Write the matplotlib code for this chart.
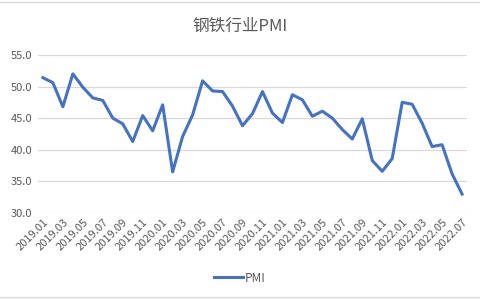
import matplotlib
matplotlib.use("Agg")
import matplotlib.pyplot as plt
from matplotlib.lines import Line2D

plt.rcParams['font.family'] = ['Noto Sans CJK SC', 'DejaVu Sans']

months = [f"{y}.{m:02d}" for y in (2019, 2020, 2021, 2022) for m in range(1, 13)][:43]
pmi = [51.4, 50.6, 46.8, 52.0, 49.9, 48.2, 47.8, 45.0, 44.1, 41.3,
       45.4, 43.0, 47.1, 36.5, 42.1, 45.5, 50.9, 49.3, 49.2, 46.9,
       43.8, 45.7, 49.2, 45.8, 44.3, 48.7, 47.9, 45.3, 46.1, 45.0,
       43.2, 41.7, 44.9, 38.3, 36.6, 38.6, 47.5, 47.2, 44.2, 40.5,
       40.8, 36.2, 33.0]
yticks = [30, 35, 40, 45, 50, 55]

gray = '#595959'
fig = plt.figure(figsize=(4.8, 3.0), dpi=100)
ax = fig.add_axes([0.079, 0.29, 0.894, 0.527])

x = list(range(len(pmi)))
ax.plot(x, pmi, color='#4472C4', linewidth=2.2, label='PMI', solid_joinstyle='round')

ax.set_xlim(-0.5, len(pmi) - 0.5)
ax.set_ylim(30, 55)
ax.set_yticks(yticks)
ax.set_yticklabels([f"{v:.1f}" for v in yticks])
ax.set_xticks(x[::2])
ax.set_xticklabels(months[::2], rotation=45, ha='right', rotation_mode='anchor')
ax.tick_params(axis='both', length=0, labelsize=8, colors=gray, pad=3)
ax.tick_params(axis='y', pad=4)
ax.grid(axis='y', color='#D9D9D9', linewidth=0.9)
ax.set_axisbelow(True)
for s in ax.spines.values():
    s.set_visible(False)

fig.text(0.5, 0.913, '钢铁行业PMI', ha='center', va='center', fontsize=12, color=gray)
fig.legend(loc='center', bbox_to_anchor=(0.5, 0.073), frameon=False, fontsize=8.5,
           handlelength=2.4, labelcolor=gray, handletextpad=0.2)

fig.add_artist(Line2D([0, 1], [0.993, 0.993], color='#D9D9D9', linewidth=1))
fig.add_artist(Line2D([0, 1], [0.01, 0.01], color='#D9D9D9', linewidth=1))

fig.savefig('out.png', dpi=100)
